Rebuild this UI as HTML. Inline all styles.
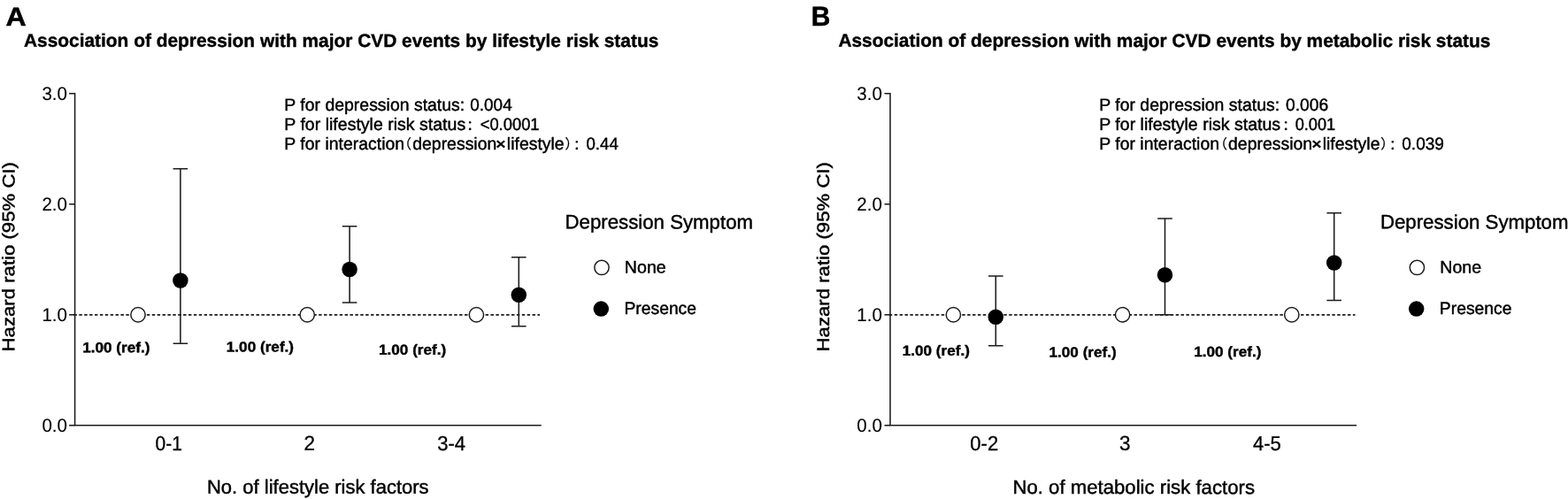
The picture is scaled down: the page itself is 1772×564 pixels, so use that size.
<!DOCTYPE html>
<html><head><meta charset="utf-8"><title>Figure</title>
<style>
html,body{margin:0;padding:0;background:#fff;}
svg{display:block;font-family:"Liberation Sans","Noto Sans CJK SC",sans-serif;text-rendering:geometricPrecision;}
svg text{fill:#000;stroke:#000;stroke-linejoin:round;}
svg text.cjk{font-family:"Noto Sans CJK SC","Liberation Sans",sans-serif;}
</style></head><body>
<svg width="1772" height="564" viewBox="0 0 1772 564">
<rect width="1772" height="564" fill="#fff"/>
<g>
<text transform="translate(6.40,28.89) matrix(1,0.0005,0,1,0,0) scale(1.0850,1)" font-size="29.6" font-weight="bold" stroke-width="0.5">A</text>
<text transform="translate(26.98,52.77) matrix(1,0.0005,0,1,0,0) scale(1.0020,1)" font-size="20.85" font-weight="bold" stroke-width="0.4">Association of depression with major CVD events by lifestyle risk status</text>
<path d="M84.60,104.93 V480.8 H611.70" fill="none" stroke="#1c1c1c" stroke-width="1.55" stroke-linejoin="miter"/>
<line x1="78.10" x2="84.60" y1="480.8" y2="480.8" stroke="#1c1c1c" stroke-width="1.55"/>
<text transform="translate(47.43,487.99) matrix(1,0.0005,0,1,0,0) scale(0.9750,1)" font-size="21.1" stroke-width="0.1">0.0</text>
<line x1="78.10" x2="84.60" y1="355.77" y2="355.77" stroke="#1c1c1c" stroke-width="1.55"/>
<text transform="translate(47.43,362.96) matrix(1,0.0005,0,1,0,0) scale(0.9750,1)" font-size="21.1" stroke-width="0.1">1.0</text>
<line x1="78.10" x2="84.60" y1="230.74" y2="230.74" stroke="#1c1c1c" stroke-width="1.55"/>
<text transform="translate(47.43,237.93) matrix(1,0.0005,0,1,0,0) scale(0.9750,1)" font-size="21.1" stroke-width="0.1">2.0</text>
<line x1="78.10" x2="84.60" y1="105.71" y2="105.71" stroke="#1c1c1c" stroke-width="1.55"/>
<text transform="translate(47.43,112.90) matrix(1,0.0005,0,1,0,0) scale(0.9750,1)" font-size="21.1" stroke-width="0.1">3.0</text>
<text transform="translate(16.30,397.46) rotate(-90) matrix(1,0.0005,0,1,0,0) scale(1.137,1)" font-size="19.5" stroke-width="0.45">Hazard ratio (95% CI)</text>
<line x1="83.45" x2="610.10" y1="355.77" y2="355.77" stroke="#1c1c1c" stroke-width="1.75" stroke-dasharray="3.45,2.4377"/>
<text transform="translate(175.60,508.79) matrix(1,0.0005,0,1,0,0) scale(0.9150,1)" font-size="23.0" stroke-width="0.3">0-1</text>
<text transform="translate(343.55,508.80) matrix(1,0.0005,0,1,0,0) scale(0.9800,1)" font-size="23.0" stroke-width="0.3">2</text>
<text transform="translate(494.24,508.79) matrix(1,0.0005,0,1,0,0) scale(0.9600,1)" font-size="23.0" stroke-width="0.3">3-4</text>
<text transform="translate(233.96,557.74) matrix(1,0.0005,0,1,0,0)" font-size="22" stroke-width="0.45">No. of lifestyle risk factors</text>
<path d="M203.90,388.28 V190.73 M195.60,388.28 h16.6 M195.60,190.73 h16.6" fill="none" stroke="#1c1c1c" stroke-width="1.55"/>
<circle cx="156.00" cy="355.77" r="8.15" fill="#fff" stroke="#1c1c1c" stroke-width="1.5"/>
<circle cx="203.90" cy="317.01" r="8.75" fill="#000"/>
<text transform="translate(93.18,398.28) matrix(1,0.0005,0,1,0,0) scale(1.0600,1)" font-size="16.2" font-weight="bold" stroke-width="0.4">1.00 (ref.)</text>
<path d="M395.10,342.02 V255.75 M386.80,342.02 h16.6 M386.80,255.75 h16.6" fill="none" stroke="#1c1c1c" stroke-width="1.55"/>
<circle cx="347.20" cy="355.77" r="8.15" fill="#fff" stroke="#1c1c1c" stroke-width="1.5"/>
<circle cx="395.10" cy="304.51" r="8.75" fill="#000"/>
<text transform="translate(255.78,397.48) matrix(1,0.0005,0,1,0,0) scale(1.0600,1)" font-size="16.2" font-weight="bold" stroke-width="0.4">1.00 (ref.)</text>
<path d="M586.30,368.65 V290.75 M578.00,368.65 h16.6 M578.00,290.75 h16.6" fill="none" stroke="#1c1c1c" stroke-width="1.55"/>
<circle cx="538.40" cy="355.77" r="8.15" fill="#fff" stroke="#1c1c1c" stroke-width="1.5"/>
<circle cx="586.30" cy="333.26" r="8.75" fill="#000"/>
<text transform="translate(427.98,400.78) matrix(1,0.0005,0,1,0,0) scale(1.0600,1)" font-size="16.2" font-weight="bold" stroke-width="0.4">1.00 (ref.)</text>
<text transform="translate(321.34,124.95) matrix(1,0.0005,0,1,0,0)" font-size="19.45" stroke-width="0.45">P for depression status:</text>
<text transform="translate(531.24,124.99) matrix(1,0.0005,0,1,0,0) scale(0.9750,1)" font-size="19.45" stroke-width="0.45">0.004</text>
<text transform="translate(321.34,146.95) matrix(1,0.0005,0,1,0,0) scale(1.0050,1)" font-size="19.45" stroke-width="0.45">P for lifestyle risk status</text>
<text transform="translate(527.19,147.00) matrix(1,0.0005,0,1,0,0)" font-size="15.5" stroke-width="0.3" class="cjk">：</text>
<text transform="translate(542.68,146.98) matrix(1,0.0005,0,1,0,0) scale(0.9450,1)" font-size="19.45" stroke-width="0.45">&lt;0.0001</text>
<text transform="translate(321.34,168.97) matrix(1,0.0005,0,1,0,0)" font-size="19.45" stroke-width="0.45">P for interaction</text>
<text transform="translate(449.84,168.10) matrix(1,0.0005,0,1,0,0)" font-size="15.2" stroke-width="0.3" class="cjk">（</text>
<text transform="translate(466.22,168.98) matrix(1,0.0005,0,1,0,0)" font-size="19.45" stroke-width="0.45">depression</text>
<text transform="translate(560.33,168.40) matrix(1,0.0005,0,1,0,0) scale(1.1500,1)" font-size="17.0" stroke-width="0.8">×</text>
<text transform="translate(572.84,168.98) matrix(1,0.0005,0,1,0,0)" font-size="19.45" stroke-width="0.45">lifestyle</text>
<text transform="translate(638.44,168.10) matrix(1,0.0005,0,1,0,0)" font-size="15.2" stroke-width="0.3" class="cjk">）</text>
<text transform="translate(648.09,169.00) matrix(1,0.0005,0,1,0,0)" font-size="15.5" stroke-width="0.3" class="cjk">：</text>
<text transform="translate(662.45,168.99) matrix(1,0.0005,0,1,0,0) scale(0.9600,1)" font-size="19.45" stroke-width="0.45">0.44</text>
<text transform="translate(638.52,258.35) matrix(1,0.0005,0,1,0,0) scale(1.0020,1)" font-size="22.2" stroke-width="0.45">Depression Symptom</text>
<circle cx="680.00" cy="302.4" r="8.15" fill="#fff" stroke="#1c1c1c" stroke-width="1.5"/>
<text transform="translate(705.83,308.49) matrix(1,0.0005,0,1,0,0)" font-size="19.6" stroke-width="0.45">None</text>
<circle cx="679.30" cy="349.1" r="8.75" fill="#000"/>
<text transform="translate(705.46,354.98) matrix(1,0.0005,0,1,0,0) scale(0.9850,1)" font-size="19.6" stroke-width="0.45">Presence</text>
</g>
<g>
<text transform="translate(916.86,29.00) matrix(1,0.0005,0,1,0,0) scale(0.9650,1)" font-size="31.0" font-weight="bold" stroke-width="0.5">B</text>
<text transform="translate(947.38,52.77) matrix(1,0.0005,0,1,0,0) scale(1.0020,1)" font-size="20.85" font-weight="bold" stroke-width="0.4">Association of depression with major CVD events by metabolic risk status</text>
<path d="M1006.00,104.93 V480.8 H1533.10" fill="none" stroke="#1c1c1c" stroke-width="1.55" stroke-linejoin="miter"/>
<line x1="999.50" x2="1006.00" y1="480.8" y2="480.8" stroke="#1c1c1c" stroke-width="1.55"/>
<text transform="translate(968.23,487.99) matrix(1,0.0005,0,1,0,0) scale(0.9750,1)" font-size="21.1" stroke-width="0.1">0.0</text>
<line x1="999.50" x2="1006.00" y1="355.77" y2="355.77" stroke="#1c1c1c" stroke-width="1.55"/>
<text transform="translate(968.23,362.96) matrix(1,0.0005,0,1,0,0) scale(0.9750,1)" font-size="21.1" stroke-width="0.1">1.0</text>
<line x1="999.50" x2="1006.00" y1="230.74" y2="230.74" stroke="#1c1c1c" stroke-width="1.55"/>
<text transform="translate(968.23,237.93) matrix(1,0.0005,0,1,0,0) scale(0.9750,1)" font-size="21.1" stroke-width="0.1">2.0</text>
<line x1="999.50" x2="1006.00" y1="105.71" y2="105.71" stroke="#1c1c1c" stroke-width="1.55"/>
<text transform="translate(968.23,112.90) matrix(1,0.0005,0,1,0,0) scale(0.9750,1)" font-size="21.1" stroke-width="0.1">3.0</text>
<text transform="translate(936.90,397.46) rotate(-90) matrix(1,0.0005,0,1,0,0) scale(1.137,1)" font-size="19.5" stroke-width="0.45">Hazard ratio (95% CI)</text>
<line x1="1004.85" x2="1531.50" y1="355.77" y2="355.77" stroke="#1c1c1c" stroke-width="1.75" stroke-dasharray="3.45,2.4377"/>
<text transform="translate(1096.26,508.79) matrix(1,0.0005,0,1,0,0) scale(0.9600,1)" font-size="23.0" stroke-width="0.3">0-2</text>
<text transform="translate(1265.00,508.80) matrix(1,0.0005,0,1,0,0) scale(0.9800,1)" font-size="23.0" stroke-width="0.3">3</text>
<text transform="translate(1415.91,508.79) matrix(1,0.0005,0,1,0,0) scale(0.9600,1)" font-size="23.0" stroke-width="0.3">4-5</text>
<text transform="translate(1144.38,558.03) matrix(1,0.0005,0,1,0,0) scale(1.0080,1)" font-size="22" stroke-width="0.45">No. of metabolic risk factors</text>
<path d="M1125.30,390.78 V312.01 M1117.00,390.78 h16.6 M1117.00,312.01 h16.6" fill="none" stroke="#1c1c1c" stroke-width="1.55"/>
<circle cx="1077.40" cy="355.77" r="8.15" fill="#fff" stroke="#1c1c1c" stroke-width="1.5"/>
<circle cx="1125.30" cy="358.27" r="8.75" fill="#000"/>
<text transform="translate(1019.68,401.78) matrix(1,0.0005,0,1,0,0) scale(1.0600,1)" font-size="16.2" font-weight="bold" stroke-width="0.4">1.00 (ref.)</text>
<path d="M1316.50,355.77 V246.99 M1308.20,355.77 h16.6 M1308.20,246.99 h16.6" fill="none" stroke="#1c1c1c" stroke-width="1.55"/>
<circle cx="1268.60" cy="355.77" r="8.15" fill="#fff" stroke="#1c1c1c" stroke-width="1.5"/>
<circle cx="1316.50" cy="310.76" r="8.75" fill="#000"/>
<text transform="translate(1185.48,403.38) matrix(1,0.0005,0,1,0,0) scale(1.0600,1)" font-size="16.2" font-weight="bold" stroke-width="0.4">1.00 (ref.)</text>
<path d="M1507.70,339.52 V240.74 M1499.40,339.52 h16.6 M1499.40,240.74 h16.6" fill="none" stroke="#1c1c1c" stroke-width="1.55"/>
<circle cx="1459.80" cy="355.77" r="8.15" fill="#fff" stroke="#1c1c1c" stroke-width="1.5"/>
<circle cx="1507.70" cy="297.01" r="8.75" fill="#000"/>
<text transform="translate(1349.18,402.88) matrix(1,0.0005,0,1,0,0) scale(1.0600,1)" font-size="16.2" font-weight="bold" stroke-width="0.4">1.00 (ref.)</text>
<text transform="translate(1242.24,124.95) matrix(1,0.0005,0,1,0,0)" font-size="19.45" stroke-width="0.45">P for depression status:</text>
<text transform="translate(1453.03,124.99) matrix(1,0.0005,0,1,0,0) scale(0.9900,1)" font-size="19.45" stroke-width="0.45">0.006</text>
<text transform="translate(1242.24,146.95) matrix(1,0.0005,0,1,0,0) scale(1.0050,1)" font-size="19.45" stroke-width="0.45">P for lifestyle risk status</text>
<text transform="translate(1449.29,147.00) matrix(1,0.0005,0,1,0,0)" font-size="15.5" stroke-width="0.3" class="cjk">：</text>
<text transform="translate(1463.67,146.99) matrix(1,0.0005,0,1,0,0) scale(0.9360,1)" font-size="19.45" stroke-width="0.45">0.001</text>
<text transform="translate(1242.24,168.97) matrix(1,0.0005,0,1,0,0)" font-size="19.45" stroke-width="0.45">P for interaction</text>
<text transform="translate(1371.64,168.10) matrix(1,0.0005,0,1,0,0)" font-size="15.2" stroke-width="0.3" class="cjk">（</text>
<text transform="translate(1388.02,168.98) matrix(1,0.0005,0,1,0,0)" font-size="19.45" stroke-width="0.45">depression</text>
<text transform="translate(1482.13,168.40) matrix(1,0.0005,0,1,0,0) scale(1.1500,1)" font-size="17.0" stroke-width="0.8">×</text>
<text transform="translate(1494.64,168.98) matrix(1,0.0005,0,1,0,0)" font-size="19.45" stroke-width="0.45">lifestyle</text>
<text transform="translate(1560.24,168.10) matrix(1,0.0005,0,1,0,0)" font-size="15.2" stroke-width="0.3" class="cjk">）</text>
<text transform="translate(1569.89,169.00) matrix(1,0.0005,0,1,0,0)" font-size="15.5" stroke-width="0.3" class="cjk">：</text>
<text transform="translate(1584.24,168.99) matrix(1,0.0005,0,1,0,0) scale(0.9800,1)" font-size="19.45" stroke-width="0.45">0.039</text>
<text transform="translate(1559.92,258.35) matrix(1,0.0005,0,1,0,0) scale(1.0020,1)" font-size="22.2" stroke-width="0.45">Depression Symptom</text>
<circle cx="1601.40" cy="302.4" r="8.15" fill="#fff" stroke="#1c1c1c" stroke-width="1.5"/>
<text transform="translate(1627.23,308.49) matrix(1,0.0005,0,1,0,0)" font-size="19.6" stroke-width="0.45">None</text>
<circle cx="1600.70" cy="349.1" r="8.75" fill="#000"/>
<text transform="translate(1626.86,354.98) matrix(1,0.0005,0,1,0,0) scale(0.9850,1)" font-size="19.6" stroke-width="0.45">Presence</text>
</g>
</svg>
</body></html>
